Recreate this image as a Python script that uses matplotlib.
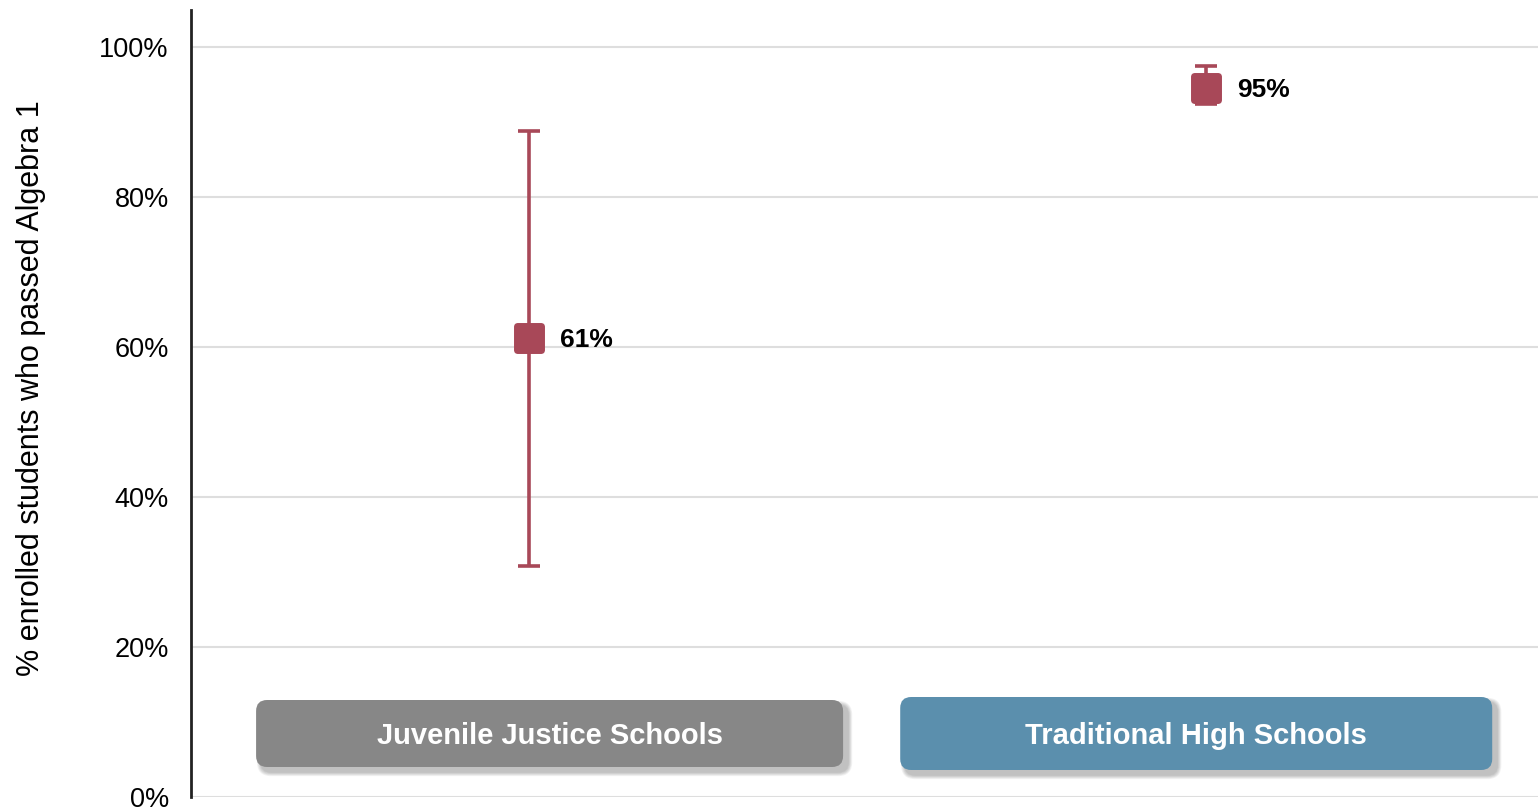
import numpy as np
import matplotlib
matplotlib.use("Agg")
import matplotlib.pyplot as plt
from matplotlib.markers import MarkerStyle
from matplotlib.patches import FancyBboxPatch
from matplotlib.transforms import IdentityTransform
from matplotlib.ticker import FuncFormatter

# datos
categorias = ["Juvenile Justice Schools", "Traditional High Schools"]
valores = [61.3, 94.6]
err_bajo = [30.8, 92.4]
err_alto = [88.8, 97.5]
etiquetas = ["61%", "95%"]
colores_caja = ["#878787", "#5b8fad"]
y_ticks = [0, 20, 40, 60, 80, 100]

plt.rcParams['font.family'] = ['Liberation Sans', 'DejaVu Sans']
rojo = "#a84858"

fig = plt.figure(figsize=(15.38, 8.09), dpi=100)
ax = fig.add_axes([191/1538, 12/809, 1 - 191/1538, 787/809])

xs = np.arange(len(categorias))
yerr = [np.array(valores) - np.array(err_bajo), np.array(err_alto) - np.array(valores)]
ax.errorbar(xs, valores, yerr=yerr, fmt='none', ecolor=rojo, elinewidth=2.6,
            capsize=8, capthick=2.6, zorder=3)
ax.plot(xs, valores, linestyle='none', marker=MarkerStyle('s', joinstyle='round'),
        markersize=17, markerfacecolor=rojo, markeredgecolor=rojo,
        markeredgewidth=5, zorder=4)

for x, v, t in zip(xs, valores, etiquetas):
    ax.annotate(t, (x, v), xytext=(22, 0), textcoords='offset points',
                ha='left', va='center_baseline', fontsize=19, fontweight='bold',
                color='black')

ax.set_xlim(-0.4993, 1.490)
ax.set_ylim(0, 105)
ax.set_yticks(y_ticks)
ax.yaxis.set_major_formatter(FuncFormatter(lambda v, p: f"{v:.0f}%"))
ax.tick_params(axis='y', length=0, labelsize=19.5, pad=16)
ax.set_xticks([])
ax.grid(axis='y', color='#dedede', linewidth=1.5)
ax.set_axisbelow(True)
for s in ['top', 'right', 'bottom']:
    ax.spines[s].set_visible(False)
ax.spines['left'].set_linewidth(2)
ax.spines['left'].set_color('#222222')

ax.set_ylabel("% enrolled students who passed Algebra 1", fontsize=22)
ax.yaxis.set_label_coords(-0.108, 0.52)

# cajas de categoria con sombra (en pixeles, relativas a cada categoria)
desde = [-273, -306]
hasta = [314, 286]
alto_caja = [(42, 109), (39, 112)]
for x, nombre, c, d0, d1, (yb, yt) in zip(xs, categorias, colores_caja, desde, hasta, alto_caja):
    px = ax.transData.transform((x, 0))[0]
    x0, x1 = px + d0, px + d1
    w, h = x1 - x0, yt - yb
    for k in range(6):
        g = 6 - k
        sh = FancyBboxPatch((x0 + 5, yb - 5), w, h,
                            boxstyle=f"round,pad={g * 0.7},rounding_size={10 + g * 0.7}",
                            transform=IdentityTransform(), facecolor='black',
                            alpha=0.045, edgecolor='none', zorder=5)
        fig.patches.append(sh)
        sh.set_figure(fig)
    box = FancyBboxPatch((x0, yb), w, h, boxstyle="round,pad=0,rounding_size=11",
                         transform=IdentityTransform(), facecolor=c,
                         edgecolor='none', zorder=6)
    fig.patches.append(box)
    box.set_figure(fig)
    fig.text((x0 + x1) / 2 / fig.bbox.width, (yb + yt) / 2 / fig.bbox.height, nombre,
             ha='center', va='center_baseline', color='white', fontsize=21,
             fontweight='bold', zorder=7)

fig.savefig("out.png", dpi=100)
